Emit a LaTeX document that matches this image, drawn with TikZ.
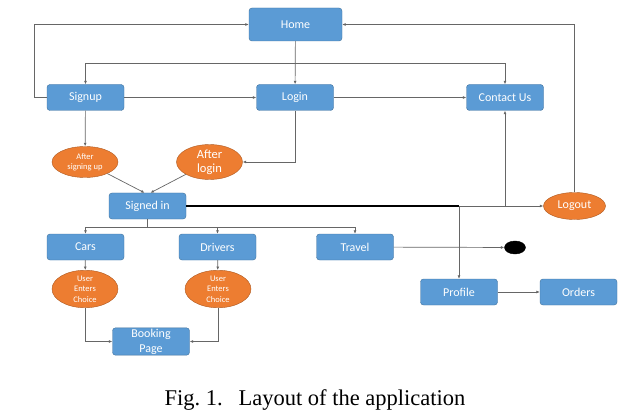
\documentclass[tikz,border=0pt]{standalone}
\usepackage{fontspec}
\usepackage{xcolor}
\usepackage{tikz}
\usetikzlibrary{shapes}
\usetikzlibrary{arrows.meta}
\usetikzlibrary{positioning}
\newfontfamily\calibri{Carlito}
\newfontfamily\capfont{Liberation Serif}
\definecolor{boxblue}{HTML}{5B9BD5}
\definecolor{boxline}{HTML}{41719C}
\definecolor{ovalorange}{HTML}{ED7D31}
\definecolor{ovalline}{HTML}{AE5A21}
\definecolor{wire}{HTML}{666666}

\begin{document}
\begin{tikzpicture}[
  x=1pt, y=-1pt,
  font=\calibri,
  page/.style={rectangle,rounded corners=3pt,draw=boxline,fill=boxblue,text=white,
    minimum width=77pt,minimum height=26pt,inner sep=1pt,font=\calibri\fontsize{12}{12}\selectfont},
  state/.style={ellipse,draw=ovalline,fill=ovalorange,text=white,
    minimum width=66pt,minimum height=31pt,inner sep=0pt,align=center},
  arr/.style={draw=wire,line width=0.7pt,-{Latex[length=3.5pt,width=3pt]}},
  wireline/.style={draw=wire,line width=0.7pt}]
  \useasboundingbox (0,0) rectangle (633,420);

  \node[page,minimum width=93pt,minimum height=33pt] (home) at (295.5,24.5) {Home};
  \node[page] (signup) at (85.5,97.5) {Signup};
  \node[page] (login) at (295,97.5) {Login};
  \node[page] (contact) at (505,97.5) {Contact Us};
  \node[state,font=\calibri\fontsize{8.5}{10}\selectfont] (aftersignup) at (85,162) {After\\signing up};
  \node[state,font=\calibri\fontsize{12.5}{14}\selectfont] (afterlogin) at (209.5,162) {After\\login};
  \node[page] (signedin) at (147.5,206) {Signed in};
  \node[state,minimum width=62pt,minimum height=27pt,font=\calibri\fontsize{12}{12}\selectfont] (logout) at (574.5,206) {Logout};
  \node[page] (cars) at (85.5,247) {Cars};
  \node[page] (drivers) at (217.5,247) {Drivers};
  \node[page] (travel) at (355,247) {Travel};
  \node[ellipse,draw,fill=black,minimum width=21pt,minimum height=13pt,inner sep=0pt] (dot) at (515,247.5) {};
  \node[state,font=\calibri\fontsize{8.5}{10.5}\selectfont] (choicecars) at (85,289) {User\\Enters\\Choice};
  \node[state,font=\calibri\fontsize{8.5}{10.5}\selectfont] (choicedrivers) at (218,289) {User\\Enters\\Choice};
  \node[page,align=center,font=\calibri\fontsize{12}{15}\selectfont] (booking) at (151,341.5) {Booking\\Page};
  \node[page] (profile) at (459,292) {Profile};
  \node[page] (orders) at (578.5,292) {Orders};

  \coordinate (homesplit) at (295,63);
  \coordinate (signedsplit) at (147.5,227);
  \coordinate (profilesplit) at (459,206);

  \draw[arr] (home) -- (login);
  \draw[arr] (homesplit) -| (signup);
  \draw[arr] (homesplit) -| (contact);
  \draw[arr] (signup.west) -- ++(-12,0) |- (home.west);
  \draw[arr] (logout.north) |- (home.east);
  \draw[arr] (signup) -- (login);
  \draw[arr] (login) -- (contact);
  \draw[arr] (signup) -- (aftersignup);
  \draw[arr] (login.south) |- (afterlogin.east);
  \draw[arr] (aftersignup) -- ([xshift=-3pt]signedin.north);
  \draw[arr] (afterlogin) -- ([xshift=3pt]signedin.north);
  \draw[black,line width=1.1pt] (signedin.east) -- (profilesplit);
  \draw[arr] (profilesplit) -- (logout.west);
  \draw[arr] (contact.south |- profilesplit) -- (contact.south);
  \draw[arr] (profilesplit) -- (profile.north);
  \draw[wireline] (signedin.south) -- (signedsplit);
  \draw[arr] (signedsplit) -| (cars.north);
  \draw[arr] (signedsplit) -| (drivers.north);
  \draw[arr] (signedsplit) -| (travel.north);
  \draw[arr] (travel) -- (dot);
  \draw[arr] (cars) -- (choicecars);
  \draw[arr] (drivers) -- (choicedrivers);
  \draw[arr] (choicecars.south) |- (booking.west);
  \draw[arr] (choicedrivers.south) |- (booking.east);
  \draw[arr] (profile) -- (orders);

  \node[font=\capfont\fontsize{22.5}{22.5}\selectfont,anchor=base] (caption) at (315,405) {Fig.~1.\hspace{0.7em}Layout of the application};
\end{tikzpicture}
\end{document}
